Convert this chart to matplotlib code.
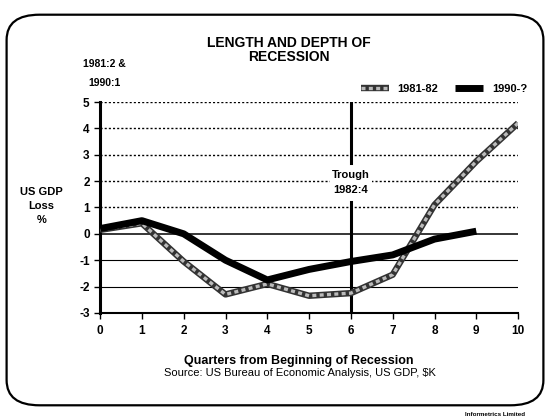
import matplotlib
matplotlib.use("Agg")
import matplotlib.pyplot as plt
from matplotlib.patches import FancyBboxPatch
from matplotlib.legend_handler import HandlerTuple

plt.rcParams['font.family'] = ['Liberation Sans', 'DejaVu Sans']
plt.rcParams['font.weight'] = 'bold'
plt.rcParams['axes.unicode_minus'] = False

# dados
quarters = [0, 1, 2, 3, 4, 5, 6, 7, 8, 9, 10]
rec_8182 = [0.15, 0.4, -1.05, -2.3, -1.9, -2.35, -2.25, -1.55, 1.1, 2.75, 4.2]
quarters_90 = [0, 1, 2, 3, 4, 5, 6, 7, 8, 9]
rec_90 = [0.2, 0.5, 0.0, -1.0, -1.75, -1.35, -1.05, -0.8, -0.2, 0.1]
y_ticks = [-3, -2, -1, 0, 1, 2, 3, 4, 5]
trough_x = 6

fig = plt.figure(figsize=(5.5, 4.2), dpi=100)
ax = fig.add_axes([0.182, 0.255, 0.76, 0.502])

# moldura arredondada
frame = FancyBboxPatch((0.012, 0.035), 0.976, 0.93, boxstyle="round,pad=0,rounding_size=0.06",
                       transform=fig.transFigure, fill=False, lw=1.6, ec='black', zorder=0)
fig.patches.append(frame)

# grade
for v in y_ticks:
    if v > 0:
        ax.axhline(v, color='black', lw=1.0, ls=(0, (1.5, 1.5)), zorder=1)
    elif v in (0, -1, -2):
        ax.axhline(v, color='black', lw=1.1 if v == 0 else 0.8, zorder=1)

# linha do vale
ax.plot([trough_x, trough_x], [5, 2.7], color='black', lw=2.2, zorder=2)
ax.plot([trough_x, trough_x], [1.2, -3], color='black', lw=2.2, zorder=2)
ax.text(trough_x, 1.95, "Trough\n1982:4", ha='center', va='center', fontsize=8,
        fontweight='bold', linespacing=1.6,
        bbox=dict(fc='white', ec='none', pad=1.5), zorder=3)

# séries
l1a, = ax.plot(quarters, rec_8182, color='#333333', lw=4.6, zorder=4, solid_capstyle='butt')
l1b, = ax.plot(quarters, rec_8182, color='#bbbbbb', lw=2.4, ls=(0, (1.2, 1.0)), zorder=5)
l2, = ax.plot(quarters_90, rec_90, color='black', lw=5, zorder=6, solid_capstyle='butt')

ax.set_xlim(0, 10)
ax.set_ylim(-3, 5)
ax.set_xticks(quarters)
ax.set_yticks(y_ticks)
ax.tick_params(axis='both', labelsize=8.5, length=4, width=1, direction='out')
ax.tick_params(axis='x', pad=5)
for lab in ax.get_xticklabels() + ax.get_yticklabels():
    lab.set_fontweight('bold')
for s in ['top', 'right']:
    ax.spines[s].set_visible(False)
ax.spines['left'].set_linewidth(2.2)
ax.spines['bottom'].set_linewidth(1.5)

ax.set_xlabel("Quarters from Beginning of Recession", fontsize=9, fontweight='bold')
ax.xaxis.set_label_coords(0.476, -0.2)
fig.text(0.545, 0.113, "Source: US Bureau of Economic Analysis, US GDP, $K", ha='center',
         va='center', fontsize=8, fontweight='normal')

fig.text(0.525, 0.88, "LENGTH AND DEPTH OF\nRECESSION", ha='center', va='center',
         fontsize=10, fontweight='bold', linespacing=1.0)
fig.text(0.19, 0.825, "1981:2 &\n\n1990:1", ha='center', va='center', fontsize=7.5,
         fontweight='bold', linespacing=0.9)
fig.text(0.075, 0.51, "US GDP\nLoss\n%", ha='center', va='center', fontsize=8,
         fontweight='bold', linespacing=1.5)

ax.legend([(l1a, l1b), l2], ["1981-82", "1990-?"], handler_map={tuple: HandlerTuple(ndivide=1, pad=0)},
          loc='lower right', bbox_to_anchor=(1.04, 1.0), ncol=2, frameon=False,
          fontsize=8, handlelength=2.5, columnspacing=1.5, handletextpad=0.8, borderaxespad=0.3)

fig.text(0.9, 0.013, "Informetrics Limited", ha='center', va='center', fontsize=4.5, fontweight='bold')

fig.savefig("out.png", dpi=100)
